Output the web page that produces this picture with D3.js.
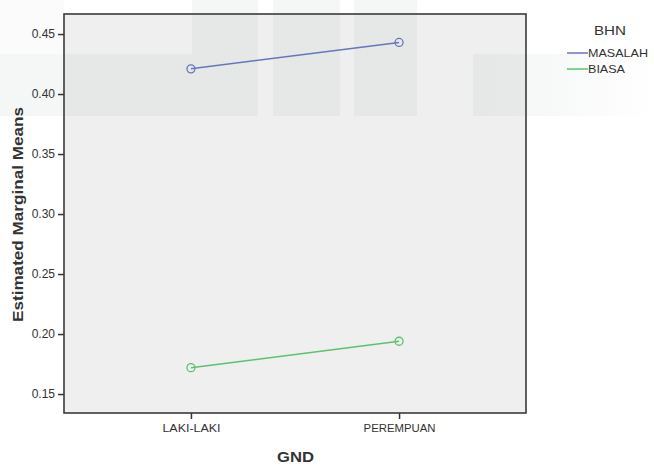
<!DOCTYPE html>
<html>
<head>
<meta charset="utf-8">
<script src="https://cdn.jsdelivr.net/npm/d3@7"></script>
<style>
  body { margin: 0; background: #fff; }
  svg text { font-family: "Liberation Sans", Arial, sans-serif; fill: #333; }
</style>
</head>
<body>
<svg id="chart" width="654" height="466"></svg>
<script>
const genders = ["LAKI-LAKI", "PEREMPUAN"];
const groups = ["MASALAH", "BIASA"];
const masalahMeans = [0.421, 0.443];
const biasaMeans = [0.172, 0.194];
const yTicks = [0.15, 0.20, 0.25, 0.30, 0.35, 0.40, 0.45];
const colors = ["#6676bd", "#5cc270"];

const svg = d3.select("#chart");
const plotL = 64, plotR = 526, plotT = 14, plotB = 413;

const x = d3.scalePoint().domain(genders).range([plotL, plotR]).padding(0.61);
const y = d3.scaleLinear().domain([0.1342, 0.4667]).range([plotB, plotT]);

// soft gradient for the watermark tail on the right
const grad = svg.append("defs").append("linearGradient")
  .attr("id", "fade").attr("x1", 0).attr("x2", 1);
grad.append("stop").attr("offset", 0).attr("stop-color", "#7f948c").attr("stop-opacity", 0.08);
grad.append("stop").attr("offset", 0.45).attr("stop-color", "#7f948c").attr("stop-opacity", 0.06);
grad.append("stop").attr("offset", 1).attr("stop-color", "#7f948c").attr("stop-opacity", 0.0);

// faint page tint top-left
svg.append("rect")
  .attr("x", 0).attr("y", 0).attr("width", 64).attr("height", 54)
  .attr("fill", "#7f948c").attr("opacity", 0.04);

// plot background
svg.append("rect")
  .attr("x", plotL).attr("y", plotT)
  .attr("width", plotR - plotL).attr("height", plotB - plotT)
  .attr("fill", "#efefef");

// faint watermark blocks from the scanned source (not overlapping)
const wm = [[0, 54, 192, 116], [192, 0, 258, 116], [273, 0, 340, 116],
            [354, 0, 417, 116]];
svg.append("g").selectAll("rect")
  .data(wm)
  .enter()
  .append("rect")
  .attr("x", d => d[0]).attr("y", d => d[1])
  .attr("width", d => d[2] - d[0]).attr("height", d => d[3] - d[1])
  .attr("fill", "#7f948c")
  .attr("opacity", 0.08);
svg.append("rect")
  .attr("x", 473).attr("y", 54).attr("width", 181).attr("height", 62)
  .attr("fill", "url(#fade)");

// axes
const yAxis = svg.append("g")
  .attr("transform", `translate(${plotL},0)`)
  .call(d3.axisLeft(y).tickValues(yTicks).tickFormat(d3.format(".2f")).tickSize(6).tickPadding(3));
const xAxis = svg.append("g")
  .attr("transform", `translate(0,${plotB})`)
  .call(d3.axisBottom(x).tickSize(6).tickPadding(5));
[yAxis, xAxis].forEach(a => {
  a.select(".domain").remove();
  a.selectAll("line").attr("stroke", "#333").attr("stroke-width", 1.5);
  a.selectAll("text").style("font-size", "12px").attr("fill", "#444");
});
const xLabelWidth = { "LAKI-LAKI": 58, "PEREMPUAN": 72 };
xAxis.selectAll("text")
  .style("font-size", "11px")
  .attr("textLength", d => xLabelWidth[d])
  .attr("lengthAdjust", "spacingAndGlyphs");

// frame
svg.append("rect")
  .attr("x", plotL).attr("y", plotT)
  .attr("width", plotR - plotL).attr("height", plotB - plotT)
  .attr("fill", "none")
  .attr("stroke", "#3a3a3a")
  .attr("stroke-width", 1.6);

// lines and markers
const series = [masalahMeans, biasaMeans];
const line = d3.line().x((d, i) => x(genders[i])).y(d => y(d));
series.forEach((vals, s) => {
  svg.append("path")
    .datum(vals)
    .attr("d", line)
    .attr("fill", "none")
    .attr("stroke", colors[s])
    .attr("stroke-width", 1.5);
  svg.append("g").selectAll("circle")
    .data(vals)
    .enter()
    .append("circle")
    .attr("cx", (d, i) => x(genders[i]))
    .attr("cy", d => y(d))
    .attr("r", 4)
    .attr("fill", "none")
    .attr("stroke", colors[s])
    .attr("stroke-width", 1.3);
});

// axis titles
svg.append("text")
  .attr("transform", "translate(23,214.5) rotate(-90)")
  .attr("text-anchor", "middle")
  .attr("textLength", 215)
  .attr("lengthAdjust", "spacingAndGlyphs")
  .style("font-size", "14px")
  .style("font-weight", "bold")
  .attr("fill", "#222")
  .text("Estimated Marginal Means");
svg.append("text")
  .attr("x", 295.5)
  .attr("y", 462)
  .attr("text-anchor", "middle")
  .attr("textLength", 37)
  .attr("lengthAdjust", "spacingAndGlyphs")
  .style("font-size", "14px")
  .style("font-weight", "bold")
  .attr("fill", "#222")
  .text("GND");

// legend
const legend = svg.append("g").attr("transform", "translate(567,0)");
legend.append("text")
  .attr("x", 27).attr("y", 35)
  .attr("textLength", 32)
  .attr("lengthAdjust", "spacingAndGlyphs")
  .style("font-size", "12.5px")
  .attr("fill", "#444")
  .text("BHN");
const item = legend.selectAll(".item")
  .data(groups)
  .enter()
  .append("g")
  .attr("transform", (d, i) => `translate(0,${53 + i * 16})`);
item.append("line")
  .attr("x1", 0).attr("x2", 21)
  .attr("stroke", (d, i) => colors[i])
  .attr("stroke-width", 1.5);
item.append("text")
  .attr("x", 21).attr("y", 4)
  .attr("textLength", d => d === "MASALAH" ? 60 : 37)
  .attr("lengthAdjust", "spacingAndGlyphs")
  .style("font-size", "11px")
  .attr("fill", "#444")
  .text(d => d);
</script>
</body>
</html>
